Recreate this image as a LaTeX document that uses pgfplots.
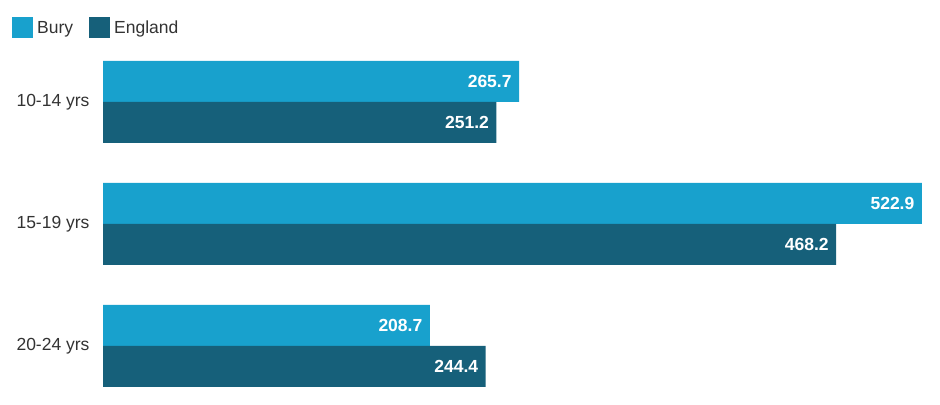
\documentclass[border=0pt]{standalone}
\usepackage{pgfplots}
\pgfplotsset{compat=1.18}
\usepackage{fontspec}
\setmainfont{Liberation Sans}
\definecolor{bury}{HTML}{18A1CD}
\definecolor{eng}{HTML}{16607A}
\definecolor{lab}{HTML}{333333}
\begin{document}
\begin{tikzpicture}
\useasboundingbox (0,0) rectangle (940bp,405bp);
\begin{axis}[
  at={(103bp,4.1bp)}, anchor=south west,
  scale only axis,
  x=1.566bp, y=122bp,
  xmin=0, xmax=528,
  ymin=-0.45, ymax=2.45,
  xbar, bar width=41bp,
  axis line style={draw=none},
  hide x axis,
  ytick={0,1,2},
  yticklabels={20-24 yrs,15-19 yrs,10-14 yrs},
  major tick length=0pt,
  yticklabel style={font=\fontsize{17.5bp}{21bp}\selectfont, text=lab, xshift=-10bp},
  /pgf/number format/assume math mode=true,
  /pgf/number format/fixed, /pgf/number format/precision=1, /pgf/number format/fixed zerofill,
  nodes near coords,
  nodes near coords style={anchor=east, text=white, font=\fontsize{17.5bp}{21bp}\selectfont\bfseries, xshift=-4bp},
  legend columns=2,
  legend style={at={(-0.110,1.054)}, anchor=west, draw=none, fill=none, inner sep=0pt,
    font=\fontsize{17.5bp}{21bp}\selectfont, text=lab,
    /tikz/every even column/.append style={column sep=12bp},
    nodes={inner sep=4bp}},
  legend cell align=left,
]
\addplot[fill=bury, draw=none, bar shift=20.5bp,
  legend image code/.code={\fill[bury] (0bp,-10.5bp) rectangle (21bp,10.5bp);}]
  coordinates {(265.7,2) (522.9,1) (208.7,0)};
\addlegendentry{Bury}
\addplot[fill=eng, draw=none, bar shift=-20.5bp,
  legend image code/.code={\fill[eng] (0bp,-10.5bp) rectangle (21bp,10.5bp);}]
  coordinates {(251.2,2) (468.2,1) (244.4,0)};
\addlegendentry{England}
\end{axis}
\end{tikzpicture}
\end{document}
